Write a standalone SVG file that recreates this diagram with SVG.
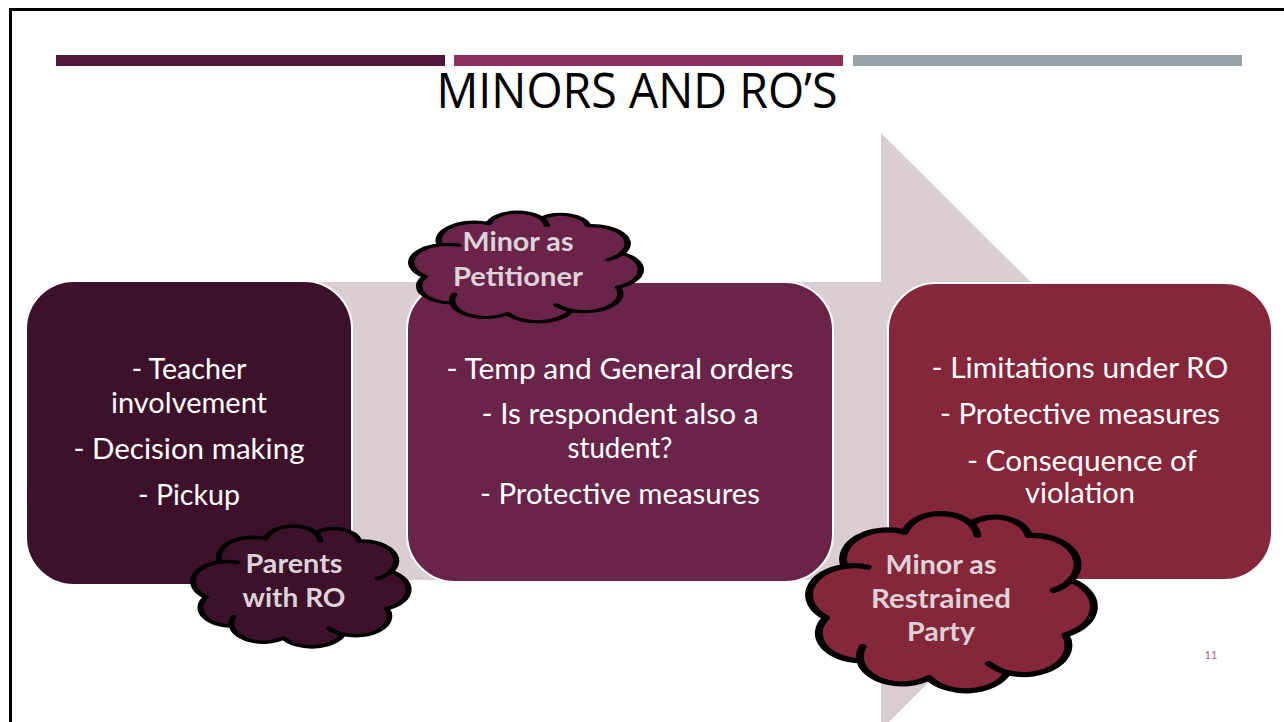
<svg xmlns="http://www.w3.org/2000/svg" xmlns:xlink="http://www.w3.org/1999/xlink" width="1284" height="722" viewBox="0 0 1284 722">
<style>
.body{font-family:Lato,"Open Sans","Liberation Sans",sans-serif;font-size:28px;fill:#FFFFFF;text-anchor:middle}
.cl{font-family:Lato,"Open Sans","Liberation Sans",sans-serif;font-size:26px;font-weight:bold;fill:#DCD3D8;text-anchor:middle}
.box{stroke:#FFFFFF;stroke-width:2}
.cloud{stroke:#000000;stroke-width:3;vector-effect:non-scaling-stroke;stroke-linejoin:round}
.hook{fill:none;stroke:#000000;stroke-width:3;vector-effect:non-scaling-stroke;stroke-linecap:round}
</style>
<defs>
<path id="cloudShape" d="M3,60 A17,17 0 0 1 10,30 A17,17 0 0 1 33,10 A14,14 0 0 1 58,5 A13,13 0 0 1 80,12 A17,17 0 0 1 96,38 A18,18 0 0 1 94,70 A17,17 0 0 1 72,92 A17,17 0 0 1 42,95 A16,16 0 0 1 16,85 A16,16 0 0 1 3,60 Z"/>
<path id="cloudHooks" d="M10,30 A17,17 0 0 1 18.8,30.4 M58,5 A14,14 0 0 1 60.5,11.8 M96,38 A17,17 0 0 1 89.5,44 M72,92 A17,17 0 0 1 64.9,86.8 M16,85 A16,16 0 0 1 16.9,76.8"/>
</defs>
<rect width="1284" height="722" fill="#FFFFFF"/>
<rect x="10.5" y="9.5" width="1300" height="740" fill="none" stroke="#000000" stroke-width="3"/>
<g id="title-bars">
<rect x="56" y="55" width="389" height="11" fill="#52163A"/>
<rect x="454" y="55" width="389" height="11" fill="#8D3060"/>
<rect x="853" y="55" width="389" height="11" fill="#98A0A8"/>
</g>
<text id="title" x="637" y="108" font-family="'Open Sans','Liberation Sans',sans-serif" font-size="49" fill="#000000" text-anchor="middle" textLength="401" lengthAdjust="spacingAndGlyphs">MINORS AND RO’S</text>
<g id="arrow">
<polygon points="100,282 881,282 881,133 1180,431 881,730 881,580 100,580" fill="#DACDD4"/>
</g>
<g id="connectors"></g>
<g id="node-teacher">
<rect class="box" x="26" y="281" width="326" height="304" rx="48" fill="#3D1129"/>
<text class="body" x="189" y="379" textLength="115" lengthAdjust="spacingAndGlyphs">- Teacher</text>
<text class="body" x="189" y="413" textLength="156" lengthAdjust="spacingAndGlyphs">involvement</text>
<text class="body" x="189" y="459" textLength="231" lengthAdjust="spacingAndGlyphs">- Decision making</text>
<text class="body" x="189" y="505" textLength="102" lengthAdjust="spacingAndGlyphs">- Pickup</text>
</g>
<g id="node-orders">
<rect class="box" x="407" y="282" width="426" height="300" rx="48" fill="#6A2449"/>
<text class="body" x="620" y="379" textLength="347" lengthAdjust="spacingAndGlyphs">- Temp and General orders</text>
<text class="body" x="620" y="424" textLength="277" lengthAdjust="spacingAndGlyphs">- Is respondent also a</text>
<text class="body" x="620" y="458" textLength="105" lengthAdjust="spacingAndGlyphs">student?</text>
<text class="body" x="620" y="504" textLength="280" lengthAdjust="spacingAndGlyphs">- Protective measures</text>
</g>
<g id="node-limitations">
<rect class="box" x="888" y="283" width="384" height="297" rx="48" fill="#86263A"/>
<text class="body" x="1080" y="378" textLength="297" lengthAdjust="spacingAndGlyphs">- Limitations under RO</text>
<text class="body" x="1080" y="424" textLength="280" lengthAdjust="spacingAndGlyphs">- Protective measures</text>
<text class="body" x="1082" y="471" textLength="230" lengthAdjust="spacingAndGlyphs">- Consequence of</text>
<text class="body" x="1080" y="503" textLength="110" lengthAdjust="spacingAndGlyphs">violation</text>
</g>
<g id="cloud-petitioner">
<g transform="translate(418.6,213) scale(2.12,1.059)">
<use xlink:href="#cloudShape" class="cloud" fill="#6A2449"/>
<use xlink:href="#cloudHooks" class="hook"/>
</g>
<text class="cl" x="518" y="251" textLength="111" lengthAdjust="spacingAndGlyphs">Minor as</text>
<text class="cl" x="518" y="286" textLength="130" lengthAdjust="spacingAndGlyphs">Petitioner</text>
</g>
<g id="cloud-parents">
<g transform="translate(200,527) scale(1.99,1.168)">
<use xlink:href="#cloudShape" class="cloud" fill="#3D1129"/>
<use xlink:href="#cloudHooks" class="hook"/>
</g>
<text class="cl" x="294" y="573" textLength="97" lengthAdjust="spacingAndGlyphs">Parents</text>
<text class="cl" x="294" y="607" textLength="103" lengthAdjust="spacingAndGlyphs">with RO</text>
</g>
<g id="cloud-restrained">
<g transform="translate(818.2,515) scale(2.63,1.713)">
<use xlink:href="#cloudShape" class="cloud" fill="#86263A"/>
<use xlink:href="#cloudHooks" class="hook"/>
</g>
<text class="cl" x="941" y="574" textLength="111" lengthAdjust="spacingAndGlyphs">Minor as</text>
<text class="cl" x="941" y="608" textLength="140" lengthAdjust="spacingAndGlyphs">Restrained</text>
<text class="cl" x="941" y="641" textLength="68" lengthAdjust="spacingAndGlyphs">Party</text>
</g>
<text id="page-number" x="1211" y="659" font-family="Lato,'Liberation Sans',sans-serif" font-size="11" fill="#A8628A" text-anchor="middle">11</text>
</svg>
